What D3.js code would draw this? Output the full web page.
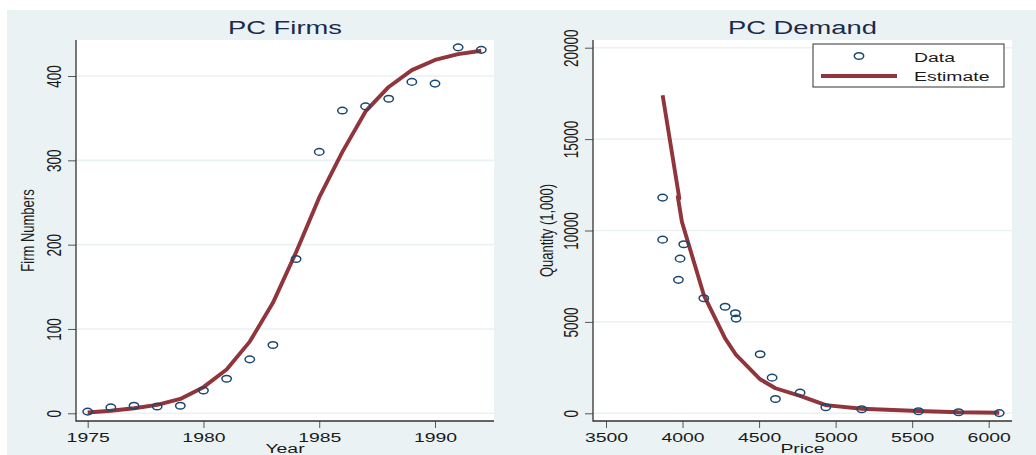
<!DOCTYPE html>
<html><head><meta charset="utf-8">
<script src="https://cdn.jsdelivr.net/npm/d3@7"></script>
<style>
html,body{margin:0;padding:0;background:#fff;}
svg{display:block;}
text{font-family:"Liberation Sans",Arial,sans-serif;}
</style></head>
<body>
<svg id="chart" width="1036" height="455"></svg>
<script>
// ---- data ----
const years = [1975,1976,1977,1978,1979,1980,1981,1982,1983,1984,1985,1986,1987,1988,1989,1990,1991,1992];
const firms = [2,7,9,8,9,27,41,64,81,183,310,359,364,373,393,391,434,431];
const firmsFit = [1,3,6,10,17,31,52,85,131,191,256,310,358,387,407,419,426,430];
const yearTicks = [1975,1980,1985,1990];
const firmTicks = [0,100,200,300,400];

const prices = [3870,3870,3984,4008,3973,4139,4278,4345,4350,4507,4585,4607,4768,4936,5171,5541,5803,6069];
const quantities = [11800,9500,8460,9250,7300,6290,5830,5470,5180,3230,1950,780,1130,330,220,110,55,10];
const estPrices = [3870,3979,3969,3996,4139,4278,4350,4507,4607,4768,4936,5171,5541,5803,6069];
const estQuantities = [17400,11760,11850,10470,6470,4100,3190,1860,1370,950,450,250,126,55,33];
const priceTicks = [3500,4000,4500,5000,5500,6000];
const qtyTicks = [0,5000,10000,15000,20000];

const legendLabels = ["Data","Estimate"];

// ---- style ----
const BG = "#eaf2f3", GRID = "#eaf2f3", NAVY = "#1a476f", MAROON = "#90353b";
const SX = 1.44; // horizontal stretch of the original export
const svg = d3.select("#chart");

svg.append("rect").attr("x",7).attr("y",10).attr("width",1029).attr("height",445).attr("fill",BG);

function panel(cfg){
  const g = svg.append("g");
  const {left,right,top,bottom} = cfg.box;
  g.append("rect").attr("x",left).attr("y",top).attr("width",right-left).attr("height",bottom-top).attr("fill","#fff");
  const x = d3.scaleLinear().domain(cfg.xDom).range(cfg.xRange);
  const y = d3.scaleLinear().domain(cfg.yDom).range(cfg.yRange);
  // grid
  g.selectAll("line.grid").data(cfg.yTicks).join("line")
    .attr("x1",left).attr("x2",right).attr("y1",d=>y(d)).attr("y2",d=>y(d))
    .attr("stroke",GRID).attr("stroke-width",1.6);
  // axes
  const ay = g.append("g").attr("transform",`translate(${left},0)`)
    .call(d3.axisLeft(y).tickValues(cfg.yTicks).tickSize(8).tickSizeOuter(0).tickFormat(d3.format("d")));
  ay.select(".domain").remove();
  ay.selectAll(".tick line").attr("stroke","#555").attr("stroke-width",1);
  ay.selectAll(".tick text").attr("x",null).attr("dy",null).attr("text-anchor","middle")
    .attr("transform",`translate(-15,0) scale(${SX},1) rotate(-90)`)
    .attr("font-size",13.5).attr("fill","#1a1a1a").attr("font-family","Liberation Sans, Arial, sans-serif");
  const ax = g.append("g").attr("transform",`translate(0,${bottom})`)
    .call(d3.axisBottom(x).tickValues(cfg.xTicks).tickSize(7).tickSizeOuter(0).tickFormat(d3.format("d")));
  ax.select(".domain").remove();
  ax.selectAll(".tick line").attr("stroke","#555").attr("stroke-width",1);
  ax.selectAll(".tick text").attr("y",null).attr("dy",null).attr("text-anchor","middle")
    .attr("transform",`translate(0,21) scale(${SX},1)`)
    .attr("font-size",13.5).attr("fill","#1a1a1a").attr("font-family","Liberation Sans, Arial, sans-serif");
  g.append("path").attr("d",`M${left},${top}V${bottom}H${right}`).attr("fill","none").attr("stroke","#333").attr("stroke-width",1.3);

  // estimate line
  g.append("path").datum(d3.zip(cfg.lx,cfg.ly))
    .attr("d",d3.line().x(d=>x(d[0])).y(d=>y(d[1])))
    .attr("fill","none").attr("stroke",MAROON).attr("stroke-width",3.9).attr("stroke-linejoin","round");
  // data points
  g.selectAll("ellipse.pt").data(d3.zip(cfg.px,cfg.py)).join("ellipse")
    .attr("cx",d=>x(d[0])).attr("cy",d=>y(d[1])).attr("rx",4.7).attr("ry",3.3)
    .attr("fill","none").attr("stroke",NAVY).attr("stroke-width",1.5);

  // titles
  const cx = (left+right)/2;
  g.append("text").attr("transform",`translate(${cx},34) scale(${SX},1)`).attr("text-anchor","middle")
    .attr("font-size",19).attr("fill","#1c2b4a").text(cfg.title);
  g.append("text").attr("transform",`translate(${cx},453) scale(${SX},1)`).attr("text-anchor","middle")
    .attr("font-size",13.5).attr("fill","#1a1a1a").text(cfg.xTitle);
  g.append("text").attr("transform",`translate(${cfg.yTitleX},${(top+bottom)/2}) scale(${SX},1) rotate(-90)`).attr("text-anchor","middle")
    .attr("font-size",13).attr("fill","#1a1a1a").text(cfg.yTitle);
  return {g,x,y};
}

panel({box:{left:76,right:494,top:40,bottom:421},
  xDom:[1975,1990], xRange:[87.7,435], yDom:[0,400], yRange:[413.3,76],
  xTicks:yearTicks, yTicks:firmTicks, px:years, py:firms, lx:years, ly:firmsFit,
  title:"PC Firms", xTitle:"Year", yTitle:"Firm Numbers", yTitleX:33.5});

panel({box:{left:593,right:1012,top:40,bottom:421},
  xDom:[3500,6000], xRange:[606,988.7], yDom:[0,20000], yRange:[413.3,47.7],
  xTicks:priceTicks, yTicks:qtyTicks, px:prices, py:quantities, lx:estPrices, ly:estQuantities,
  title:"PC Demand", xTitle:"Price", yTitle:"Quantity (1,000)", yTitleX:553});

// legend
const lg = svg.append("g");
lg.append("rect").attr("x",813).attr("y",44).attr("width",191).attr("height",43)
  .attr("fill","#fff").attr("stroke","#333").attr("stroke-width",1);
lg.append("ellipse").attr("cx",859).attr("cy",56).attr("rx",4.7).attr("ry",3.3)
  .attr("fill","none").attr("stroke",NAVY).attr("stroke-width",1.5);
lg.append("line").attr("x1",821).attr("x2",897).attr("y1",76).attr("y2",76)
  .attr("stroke",MAROON).attr("stroke-width",3.9);
lg.selectAll("text").data(legendLabels).join("text")
  .attr("transform",(d,i)=>`translate(914,${61.5+i*19.5}) scale(${SX},1)`)
  .attr("font-size",13.5).attr("fill","#1a1a1a").text(d=>d);
</script>
</body></html>
